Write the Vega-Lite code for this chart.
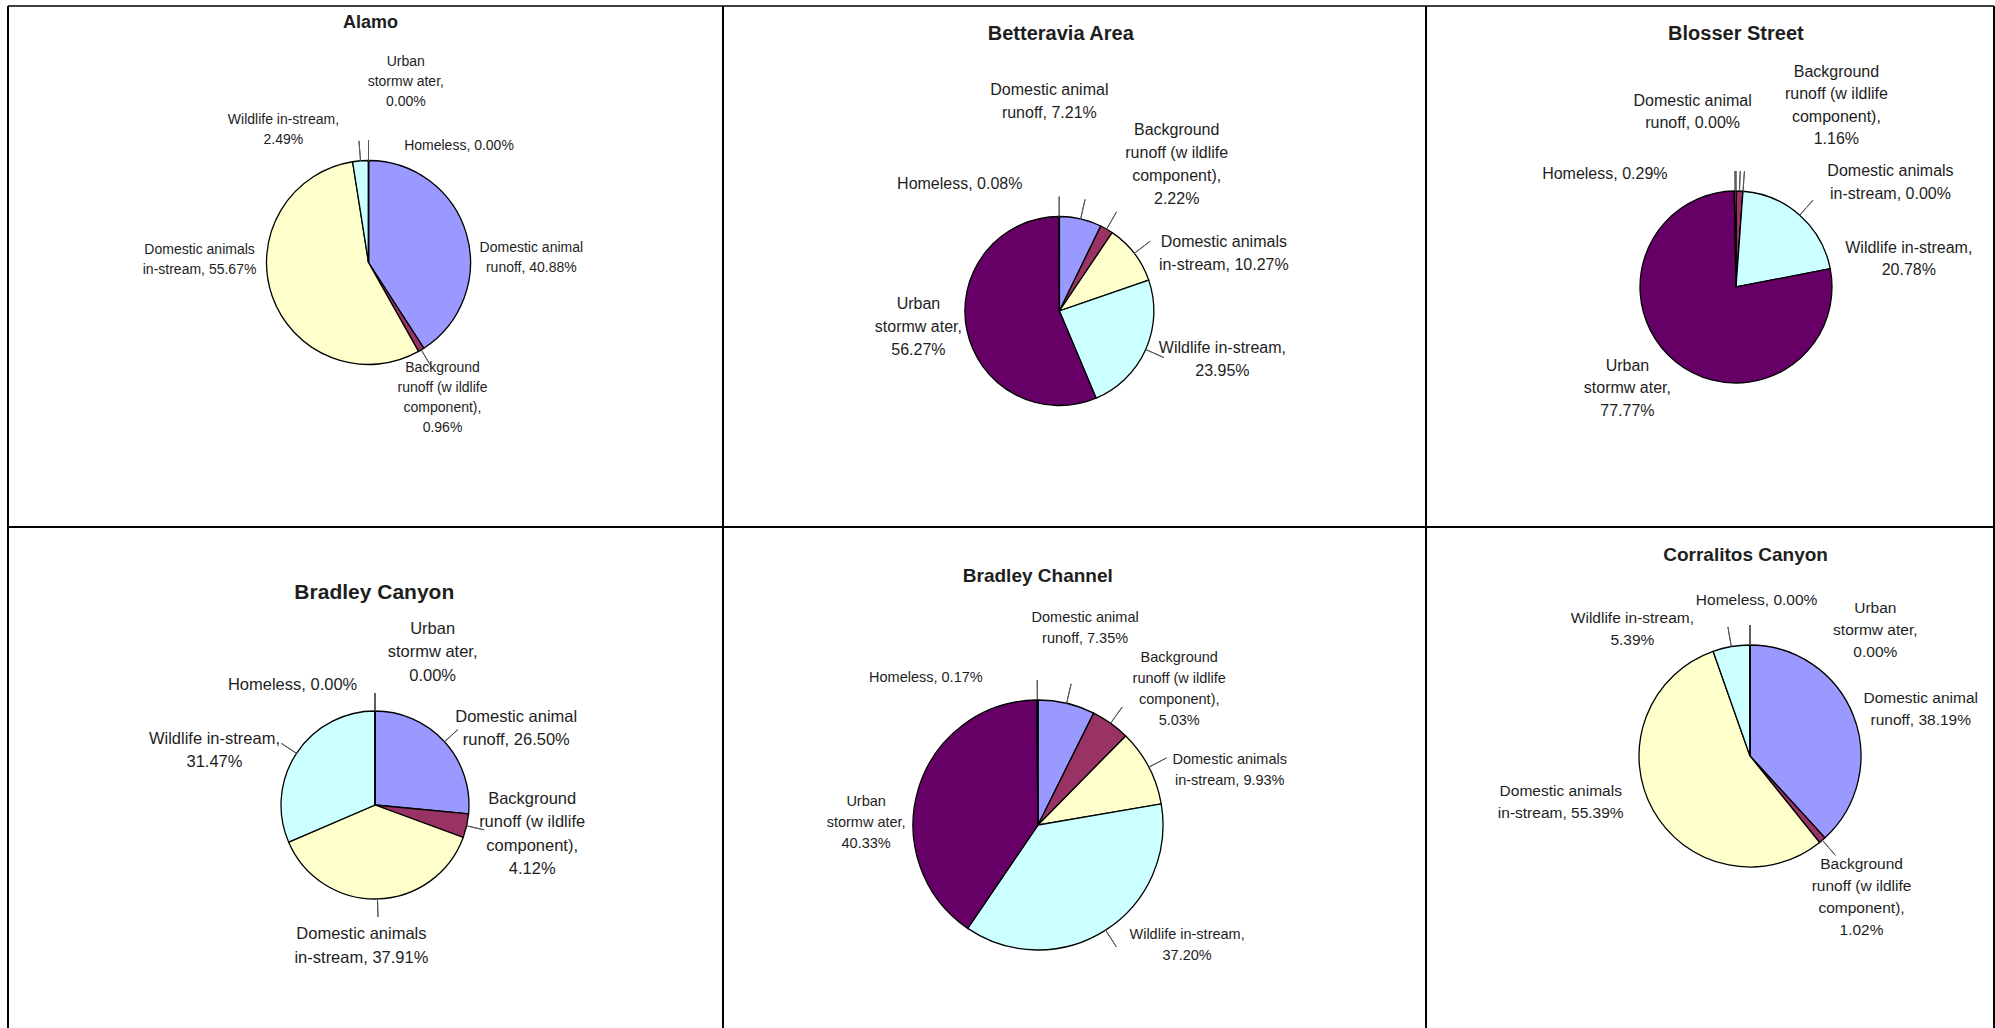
{
  "$schema": "https://vega.github.io/schema/vega-lite/v6.json",
  "background": "white",
  "padding": {"left": 7, "top": 5, "right": 0, "bottom": 0},
  "bounds": "flush",
  "spacing": 0,
  "columns": 3,
  "resolve": {"scale": {"theta": "independent", "color": "independent"}},
  "config": {
    "view": {"stroke": null},
    "concat": {"spacing": 0},
    "text": {"font": "Liberation Sans", "fill": "#1e1e1e", "align": "center", "baseline": "middle", "lineBreak": "\n"},
    "rule": {"stroke": "black", "strokeWidth": 2},
    "style": {
      "l1": {"fontSize": 14, "lineHeight": 20},
      "l2": {"fontSize": 16, "lineHeight": 23},
      "l3": {"fontSize": 16, "lineHeight": 22.5},
      "l4": {"fontSize": 16.5, "lineHeight": 23.5},
      "l5": {"fontSize": 14.5, "lineHeight": 21},
      "l6": {"fontSize": 15.5, "lineHeight": 22},
      "ttl": {"fontWeight": "bold", "fill": "black"},
      "lead": {"fillOpacity": 0, "stroke": "#555555", "strokeWidth": 1, "padAngle": 3.14}
    }
  },
  "datasets": {
    "pies": [
      {"site": "Alamo", "k": 1, "cat": "Domestic animal runoff", "v": 40.88, "lab": "Domestic animal\nrunoff, 40.88%"},
      {"site": "Alamo", "k": 2, "cat": "Background runoff (wildlife component)", "v": 0.96, "lab": "Background\nrunoff (w ildlife\ncomponent),\n0.96%"},
      {"site": "Alamo", "k": 3, "cat": "Domestic animals in-stream", "v": 55.67, "lab": "Domestic animals\nin-stream, 55.67%"},
      {"site": "Alamo", "k": 4, "cat": "Wildlife in-stream", "v": 2.49, "lab": "Wildlife in-stream,\n2.49%"},
      {"site": "Alamo", "k": 5, "cat": "Urban stormwater", "v": 0.0, "lab": "Urban\nstormw ater,\n0.00%"},
      {"site": "Alamo", "k": 6, "cat": "Homeless", "v": 0.0, "lab": "Homeless, 0.00%"},
      {"site": "Betteravia Area", "k": 1, "cat": "Domestic animal runoff", "v": 7.21, "lab": "Domestic animal\nrunoff, 7.21%"},
      {"site": "Betteravia Area", "k": 2, "cat": "Background runoff (wildlife component)", "v": 2.22, "lab": "Background\nrunoff (w ildlife\ncomponent),\n2.22%"},
      {"site": "Betteravia Area", "k": 3, "cat": "Domestic animals in-stream", "v": 10.27, "lab": "Domestic animals\nin-stream, 10.27%"},
      {"site": "Betteravia Area", "k": 4, "cat": "Wildlife in-stream", "v": 23.95, "lab": "Wildlife in-stream,\n23.95%"},
      {"site": "Betteravia Area", "k": 5, "cat": "Urban stormwater", "v": 56.27, "lab": "Urban\nstormw ater,\n56.27%"},
      {"site": "Betteravia Area", "k": 6, "cat": "Homeless", "v": 0.08, "lab": "Homeless, 0.08%"},
      {"site": "Blosser Street", "k": 1, "cat": "Domestic animal runoff", "v": 0.0, "lab": "Domestic animal\nrunoff, 0.00%"},
      {"site": "Blosser Street", "k": 2, "cat": "Background runoff (wildlife component)", "v": 1.16, "lab": "Background\nrunoff (w ildlife\ncomponent),\n1.16%"},
      {"site": "Blosser Street", "k": 3, "cat": "Domestic animals in-stream", "v": 0.0, "lab": "Domestic animals\nin-stream, 0.00%"},
      {"site": "Blosser Street", "k": 4, "cat": "Wildlife in-stream", "v": 20.78, "lab": "Wildlife in-stream,\n20.78%"},
      {"site": "Blosser Street", "k": 5, "cat": "Urban stormwater", "v": 77.77, "lab": "Urban\nstormw ater,\n77.77%"},
      {"site": "Blosser Street", "k": 6, "cat": "Homeless", "v": 0.29, "lab": "Homeless, 0.29%"},
      {"site": "Bradley Canyon", "k": 1, "cat": "Domestic animal runoff", "v": 26.5, "lab": "Domestic animal\nrunoff, 26.50%"},
      {"site": "Bradley Canyon", "k": 2, "cat": "Background runoff (wildlife component)", "v": 4.12, "lab": "Background\nrunoff (w ildlife\ncomponent),\n4.12%"},
      {"site": "Bradley Canyon", "k": 3, "cat": "Domestic animals in-stream", "v": 37.91, "lab": "Domestic animals\nin-stream, 37.91%"},
      {"site": "Bradley Canyon", "k": 4, "cat": "Wildlife in-stream", "v": 31.47, "lab": "Wildlife in-stream,\n31.47%"},
      {"site": "Bradley Canyon", "k": 5, "cat": "Urban stormwater", "v": 0.0, "lab": "Urban\nstormw ater,\n0.00%"},
      {"site": "Bradley Canyon", "k": 6, "cat": "Homeless", "v": 0.0, "lab": "Homeless, 0.00%"},
      {"site": "Bradley Channel", "k": 1, "cat": "Domestic animal runoff", "v": 7.35, "lab": "Domestic animal\nrunoff, 7.35%"},
      {"site": "Bradley Channel", "k": 2, "cat": "Background runoff (wildlife component)", "v": 5.03, "lab": "Background\nrunoff (w ildlife\ncomponent),\n5.03%"},
      {"site": "Bradley Channel", "k": 3, "cat": "Domestic animals in-stream", "v": 9.93, "lab": "Domestic animals\nin-stream, 9.93%"},
      {"site": "Bradley Channel", "k": 4, "cat": "Wildlife in-stream", "v": 37.2, "lab": "Wildlife in-stream,\n37.20%"},
      {"site": "Bradley Channel", "k": 5, "cat": "Urban stormwater", "v": 40.33, "lab": "Urban\nstormw ater,\n40.33%"},
      {"site": "Bradley Channel", "k": 6, "cat": "Homeless", "v": 0.17, "lab": "Homeless, 0.17%"},
      {"site": "Corralitos Canyon", "k": 1, "cat": "Domestic animal runoff", "v": 38.19, "lab": "Domestic animal\nrunoff, 38.19%"},
      {"site": "Corralitos Canyon", "k": 2, "cat": "Background runoff (wildlife component)", "v": 1.02, "lab": "Background\nrunoff (w ildlife\ncomponent),\n1.02%"},
      {"site": "Corralitos Canyon", "k": 3, "cat": "Domestic animals in-stream", "v": 55.39, "lab": "Domestic animals\nin-stream, 55.39%"},
      {"site": "Corralitos Canyon", "k": 4, "cat": "Wildlife in-stream", "v": 5.39, "lab": "Wildlife in-stream,\n5.39%"},
      {"site": "Corralitos Canyon", "k": 5, "cat": "Urban stormwater", "v": 0.0, "lab": "Urban\nstormw ater,\n0.00%"},
      {"site": "Corralitos Canyon", "k": 6, "cat": "Homeless", "v": 0.0, "lab": "Homeless, 0.00%"}
    ]
  },
  "data": {"name": "pies"},
  "concat": [
    {
      "width": 715, "height": 521,
      "transform": [{"filter": "datum.site === 'Alamo'"}],
      "layer": [
        {
          "encoding": {
            "theta": {"field": "v", "type": "quantitative", "stack": true},
            "order": {"field": "k", "type": "quantitative"},
            "detail": {"field": "cat", "type": "nominal"}
          },
          "layer": [
            {"mark": {"type": "arc", "x": 360.5, "y": 256.5, "outerRadius": 102, "stroke": "black", "strokeWidth": 1.3},
             "encoding": {"color": {"field": "cat", "type": "nominal", "legend": null, "scale": {"domain": ["Domestic animal runoff", "Background runoff (wildlife component)", "Domestic animals in-stream", "Wildlife in-stream", "Urban stormwater", "Homeless"], "range": ["#9999FF", "#993366", "#FFFFCC", "#CCFFFF", "#660066", "#FF8080"]}}}},
            {"mark": {"type": "arc", "style": "lead", "x": 360.5, "y": 256.5, "innerRadius": 102, "outerRadius": 122},
             "encoding": {"strokeOpacity": {"condition": {"test": "indexof([2, 4, 5, 6], datum.k) >= 0", "value": 1}, "value": 0}}},
            {"mark": {"type": "text", "style": "l1", "x": 360.5, "y": 256.5, "radius": 102, "dx": 65, "dy": 14.3}, "encoding": {"text": {"condition": {"test": "datum.k === 1", "field": "lab"}, "value": ""}}},
            {"mark": {"type": "text", "style": "l1", "x": 360.5, "y": 256.5, "radius": 102, "dx": 21.3, "dy": 17.9}, "encoding": {"text": {"condition": {"test": "datum.k === 2", "field": "lab"}, "value": ""}}},
            {"mark": {"type": "text", "style": "l1", "x": 360.5, "y": 256.5, "radius": 102, "dx": -72.6, "dy": -45.7}, "encoding": {"text": {"condition": {"test": "datum.k === 3", "field": "lab"}, "value": ""}}},
            {"mark": {"type": "text", "style": "l1", "x": 360.5, "y": 256.5, "radius": 102, "dx": -77.1, "dy": -40.5}, "encoding": {"text": {"condition": {"test": "datum.k === 4", "field": "lab"}, "value": ""}}},
            {"mark": {"type": "text", "style": "l1", "x": 360.5, "y": 256.5, "radius": 102, "dx": 37.3, "dy": -98.8}, "encoding": {"text": {"condition": {"test": "datum.k === 5", "field": "lab"}, "value": ""}}},
            {"mark": {"type": "text", "style": "l1", "x": 360.5, "y": 256.5, "radius": 102, "dx": 90.5, "dy": -14.5}, "encoding": {"text": {"condition": {"test": "datum.k === 6", "field": "lab"}, "value": ""}}}
          ]
        },
        {"transform": [{"filter": "datum.k === 1"}], "mark": {"type": "text", "style": "ttl", "fontSize": 18, "x": 362.6, "y": 16.7}, "encoding": {"text": {"field": "site"}}},
        {"transform": [{"filter": "datum.k === 1"}], "mark": {"type": "rule", "x": 335, "x2": 390, "y": 25.7, "strokeWidth": 1.5}, "encoding": {}},
        {"transform": [{"filter": "datum.k === 1"}], "mark": {"type": "rule"}, "encoding": {"x": {"value": 0}, "y": {"value": 0}, "y2": {"value": "height"}}},
        {"transform": [{"filter": "datum.k === 1"}], "mark": {"type": "rule", "strokeWidth": 1.6}, "encoding": {"y": {"value": 0}, "x": {"value": 0}, "x2": {"value": "width"}}},
        {"transform": [{"filter": "datum.k === 1"}], "mark": {"type": "rule"}, "encoding": {"y": {"value": "height"}, "x": {"value": 0}, "x2": {"value": "width"}}}
      ]
    },
    {
      "width": 703, "height": 521,
      "transform": [{"filter": "datum.site === 'Betteravia Area'"}],
      "layer": [
        {
          "encoding": {
            "theta": {"field": "v", "type": "quantitative", "stack": true},
            "order": {"field": "k", "type": "quantitative"},
            "detail": {"field": "cat", "type": "nominal"}
          },
          "layer": [
            {"mark": {"type": "arc", "x": 336.4, "y": 305, "outerRadius": 94.5, "stroke": "black", "strokeWidth": 1.3},
             "encoding": {"color": {"field": "cat", "type": "nominal", "legend": null, "scale": {"domain": ["Domestic animal runoff", "Background runoff (wildlife component)", "Domestic animals in-stream", "Wildlife in-stream", "Urban stormwater", "Homeless"], "range": ["#9999FF", "#993366", "#FFFFCC", "#CCFFFF", "#660066", "#FF8080"]}}}},
            {"mark": {"type": "arc", "style": "lead", "x": 336.4, "y": 305, "innerRadius": 94.5, "outerRadius": 114.5},
             "encoding": {"strokeOpacity": {"condition": {"test": "indexof([1, 2, 3, 4, 6], datum.k) >= 0", "value": 1}, "value": 0}}},
            {"mark": {"type": "text", "style": "l2", "x": 336.4, "y": 305, "radius": 94.5, "dx": -31.3, "dy": -129.4}, "encoding": {"text": {"condition": {"test": "datum.k === 1", "field": "lab"}, "value": ""}}},
            {"mark": {"type": "text", "style": "l2", "x": 336.4, "y": 305, "radius": 94.5, "dx": 70.1, "dy": -98.8}, "encoding": {"text": {"condition": {"test": "datum.k === 2", "field": "lab"}, "value": ""}}},
            {"mark": {"type": "text", "style": "l2", "x": 336.4, "y": 305, "radius": 94.5, "dx": 89.5, "dy": -11.5}, "encoding": {"text": {"condition": {"test": "datum.k === 3", "field": "lab"}, "value": ""}}},
            {"mark": {"type": "text", "style": "l2", "x": 336.4, "y": 305, "radius": 94.5, "dx": 76.7, "dy": -1.9}, "encoding": {"text": {"condition": {"test": "datum.k === 4", "field": "lab"}, "value": ""}}},
            {"mark": {"type": "text", "style": "l2", "x": 336.4, "y": 305, "radius": 94.5, "dx": -48.4, "dy": -26}, "encoding": {"text": {"condition": {"test": "datum.k === 5", "field": "lab"}, "value": ""}}},
            {"mark": {"type": "text", "style": "l2", "x": 336.4, "y": 305, "radius": 94.5, "dx": -99.4, "dy": -32.8}, "encoding": {"text": {"condition": {"test": "datum.k === 6", "field": "lab"}, "value": ""}}}
          ]
        },
        {"transform": [{"filter": "datum.k === 1"}], "mark": {"type": "text", "style": "ttl", "fontSize": 20, "x": 337.8, "y": 28.3}, "encoding": {"text": {"field": "site"}}},
        {"transform": [{"filter": "datum.k === 1"}], "mark": {"type": "rule", "x": 262.5, "x2": 412.6, "y": 37.7, "strokeWidth": 1.5}, "encoding": {}},
        {"transform": [{"filter": "datum.k === 1"}], "mark": {"type": "rule"}, "encoding": {"x": {"value": 0}, "y": {"value": 0}, "y2": {"value": "height"}}},
        {"transform": [{"filter": "datum.k === 1"}], "mark": {"type": "rule", "strokeWidth": 1.6}, "encoding": {"y": {"value": 0}, "x": {"value": 0}, "x2": {"value": "width"}}},
        {"transform": [{"filter": "datum.k === 1"}], "mark": {"type": "rule"}, "encoding": {"y": {"value": "height"}, "x": {"value": 0}, "x2": {"value": "width"}}}
      ]
    },
    {
      "width": 568, "height": 521,
      "transform": [{"filter": "datum.site === 'Blosser Street'"}],
      "layer": [
        {
          "encoding": {
            "theta": {"field": "v", "type": "quantitative", "stack": true},
            "order": {"field": "k", "type": "quantitative"},
            "detail": {"field": "cat", "type": "nominal"}
          },
          "layer": [
            {"mark": {"type": "arc", "x": 310, "y": 281, "outerRadius": 96, "stroke": "black", "strokeWidth": 1.3},
             "encoding": {"color": {"field": "cat", "type": "nominal", "legend": null, "scale": {"domain": ["Domestic animal runoff", "Background runoff (wildlife component)", "Domestic animals in-stream", "Wildlife in-stream", "Urban stormwater", "Homeless"], "range": ["#9999FF", "#993366", "#FFFFCC", "#CCFFFF", "#660066", "#FF8080"]}}}},
            {"mark": {"type": "arc", "style": "lead", "x": 310, "y": 281, "innerRadius": 96, "outerRadius": 116},
             "encoding": {"strokeOpacity": {"condition": {"test": "indexof([1, 2, 3, 4, 6], datum.k) >= 0", "value": 1}, "value": 0}}},
            {"mark": {"type": "text", "style": "l3", "x": 310, "y": 281, "radius": 96, "dx": -43.4, "dy": -90.25}, "encoding": {"text": {"condition": {"test": "datum.k === 1", "field": "lab"}, "value": ""}}},
            {"mark": {"type": "text", "style": "l3", "x": 310, "y": 281, "radius": 96, "dx": 96.9, "dy": -119.15}, "encoding": {"text": {"condition": {"test": "datum.k === 2", "field": "lab"}, "value": ""}}},
            {"mark": {"type": "text", "style": "l3", "x": 310, "y": 281, "radius": 96, "dx": 147.5, "dy": -20.25}, "encoding": {"text": {"condition": {"test": "datum.k === 3", "field": "lab"}, "value": ""}}},
            {"mark": {"type": "text", "style": "l3", "x": 310, "y": 281, "radius": 96, "dx": 109.1, "dy": 32.55}, "encoding": {"text": {"condition": {"test": "datum.k === 4", "field": "lab"}, "value": ""}}},
            {"mark": {"type": "text", "style": "l3", "x": 310, "y": 281, "radius": 96, "dx": -48.2, "dy": 3.9}, "encoding": {"text": {"condition": {"test": "datum.k === 5", "field": "lab"}, "value": ""}}},
            {"mark": {"type": "text", "style": "l3", "x": 310, "y": 281, "radius": 96, "dx": -130.3, "dy": -16.7}, "encoding": {"text": {"condition": {"test": "datum.k === 6", "field": "lab"}, "value": ""}}}
          ]
        },
        {"transform": [{"filter": "datum.k === 1"}], "mark": {"type": "text", "style": "ttl", "fontSize": 20, "x": 309.9, "y": 28.3}, "encoding": {"text": {"field": "site"}}},
        {"transform": [{"filter": "datum.k === 1"}], "mark": {"type": "rule", "x": 242.8, "x2": 378, "y": 37.7, "strokeWidth": 1.5}, "encoding": {}},
        {"transform": [{"filter": "datum.k === 1"}], "mark": {"type": "rule"}, "encoding": {"x": {"value": 0}, "y": {"value": 0}, "y2": {"value": "height"}}},
        {"transform": [{"filter": "datum.k === 1"}], "mark": {"type": "rule"}, "encoding": {"x": {"value": "width"}, "y": {"value": 0}, "y2": {"value": "height"}}},
        {"transform": [{"filter": "datum.k === 1"}], "mark": {"type": "rule", "strokeWidth": 1.6}, "encoding": {"y": {"value": 0}, "x": {"value": 0}, "x2": {"value": "width"}}},
        {"transform": [{"filter": "datum.k === 1"}], "mark": {"type": "rule"}, "encoding": {"y": {"value": "height"}, "x": {"value": 0}, "x2": {"value": "width"}}}
      ]
    },
    {
      "width": 715, "height": 502,
      "transform": [{"filter": "datum.site === 'Bradley Canyon'"}],
      "layer": [
        {
          "encoding": {
            "theta": {"field": "v", "type": "quantitative", "stack": true},
            "order": {"field": "k", "type": "quantitative"},
            "detail": {"field": "cat", "type": "nominal"}
          },
          "layer": [
            {"mark": {"type": "arc", "x": 367, "y": 278, "outerRadius": 94, "stroke": "black", "strokeWidth": 1.3},
             "encoding": {"color": {"field": "cat", "type": "nominal", "legend": null, "scale": {"domain": ["Domestic animal runoff", "Background runoff (wildlife component)", "Domestic animals in-stream", "Wildlife in-stream", "Urban stormwater", "Homeless"], "range": ["#9999FF", "#993366", "#FFFFCC", "#CCFFFF", "#660066", "#FF8080"]}}}},
            {"mark": {"type": "arc", "style": "lead", "x": 367, "y": 278, "innerRadius": 94, "outerRadius": 112},
             "encoding": {"strokeOpacity": {"condition": {"test": "indexof([1, 2, 3, 4, 5, 6], datum.k) >= 0", "value": 1}, "value": 0}}},
            {"mark": {"type": "text", "style": "l4", "x": 367, "y": 278, "radius": 94, "dx": 71.7, "dy": -24.75}, "encoding": {"text": {"condition": {"test": "datum.k === 1", "field": "lab"}, "value": ""}}},
            {"mark": {"type": "text", "style": "l4", "x": 367, "y": 278, "radius": 94, "dx": 65.5, "dy": -27.05}, "encoding": {"text": {"condition": {"test": "datum.k === 2", "field": "lab"}, "value": ""}}},
            {"mark": {"type": "text", "style": "l4", "x": 367, "y": 278, "radius": 94, "dx": -16.1, "dy": 35.25}, "encoding": {"text": {"condition": {"test": "datum.k === 3", "field": "lab"}, "value": ""}}},
            {"mark": {"type": "text", "style": "l4", "x": 367, "y": 278, "radius": 94, "dx": -82, "dy": -14.55}, "encoding": {"text": {"condition": {"test": "datum.k === 4", "field": "lab"}, "value": ""}}},
            {"mark": {"type": "text", "style": "l4", "x": 367, "y": 278, "radius": 94, "dx": 57.6, "dy": -82.5}, "encoding": {"text": {"condition": {"test": "datum.k === 5", "field": "lab"}, "value": ""}}},
            {"mark": {"type": "text", "style": "l4", "x": 367, "y": 278, "radius": 94, "dx": -82.4, "dy": -26}, "encoding": {"text": {"condition": {"test": "datum.k === 6", "field": "lab"}, "value": ""}}}
          ]
        },
        {"transform": [{"filter": "datum.k === 1"}], "mark": {"type": "text", "style": "ttl", "fontSize": 21, "x": 366.3, "y": 65.7}, "encoding": {"text": {"field": "site"}}},
        {"transform": [{"filter": "datum.k === 1"}], "mark": {"type": "rule", "x": 286.8, "x2": 446.6, "y": 74.7, "strokeWidth": 1.5}, "encoding": {}},
        {"transform": [{"filter": "datum.k === 1"}], "mark": {"type": "rule"}, "encoding": {"x": {"value": 0}, "y": {"value": 0}, "y2": {"value": "height"}}}
      ]
    },
    {
      "width": 703, "height": 502,
      "transform": [{"filter": "datum.site === 'Bradley Channel'"}],
      "layer": [
        {
          "encoding": {
            "theta": {"field": "v", "type": "quantitative", "stack": true},
            "order": {"field": "k", "type": "quantitative"},
            "detail": {"field": "cat", "type": "nominal"}
          },
          "layer": [
            {"mark": {"type": "arc", "x": 315, "y": 298, "outerRadius": 125, "stroke": "black", "strokeWidth": 1.3},
             "encoding": {"color": {"field": "cat", "type": "nominal", "legend": null, "scale": {"domain": ["Domestic animal runoff", "Background runoff (wildlife component)", "Domestic animals in-stream", "Wildlife in-stream", "Urban stormwater", "Homeless"], "range": ["#9999FF", "#993366", "#FFFFCC", "#CCFFFF", "#660066", "#FF8080"]}}}},
            {"mark": {"type": "arc", "style": "lead", "x": 315, "y": 298, "innerRadius": 125, "outerRadius": 145},
             "encoding": {"strokeOpacity": {"condition": {"test": "indexof([1, 2, 3, 4, 6], datum.k) >= 0", "value": 1}, "value": 0}}},
            {"mark": {"type": "text", "style": "l5", "x": 315, "y": 298, "radius": 125, "dx": 18.5, "dy": -85.8}, "encoding": {"text": {"condition": {"test": "datum.k === 1", "field": "lab"}, "value": ""}}},
            {"mark": {"type": "text", "style": "l5", "x": 315, "y": 298, "radius": 125, "dx": 68.6, "dy": -65.4}, "encoding": {"text": {"condition": {"test": "datum.k === 2", "field": "lab"}, "value": ""}}},
            {"mark": {"type": "text", "style": "l5", "x": 315, "y": 298, "radius": 125, "dx": 80.9, "dy": -7.3}, "encoding": {"text": {"condition": {"test": "datum.k === 3", "field": "lab"}, "value": ""}}},
            {"mark": {"type": "text", "style": "l5", "x": 315, "y": 298, "radius": 125, "dx": 81.5, "dy": 5.3}, "encoding": {"text": {"condition": {"test": "datum.k === 4", "field": "lab"}, "value": ""}}},
            {"mark": {"type": "text", "style": "l5", "x": 315, "y": 298, "radius": 125, "dx": -52.2, "dy": 13.5}, "encoding": {"text": {"condition": {"test": "datum.k === 5", "field": "lab"}, "value": ""}}},
            {"mark": {"type": "text", "style": "l5", "x": 315, "y": 298, "radius": 125, "dx": -111.5, "dy": -22.3}, "encoding": {"text": {"condition": {"test": "datum.k === 6", "field": "lab"}, "value": ""}}}
          ]
        },
        {"transform": [{"filter": "datum.k === 1"}], "mark": {"type": "text", "style": "ttl", "fontSize": 19, "x": 314.8, "y": 49}, "encoding": {"text": {"field": "site"}}},
        {"transform": [{"filter": "datum.k === 1"}], "mark": {"type": "rule", "x": 241.3, "x2": 389.2, "y": 59, "strokeWidth": 1.5}, "encoding": {}},
        {"transform": [{"filter": "datum.k === 1"}], "mark": {"type": "rule"}, "encoding": {"x": {"value": 0}, "y": {"value": 0}, "y2": {"value": "height"}}}
      ]
    },
    {
      "width": 568, "height": 502,
      "transform": [{"filter": "datum.site === 'Corralitos Canyon'"}],
      "layer": [
        {
          "encoding": {
            "theta": {"field": "v", "type": "quantitative", "stack": true},
            "order": {"field": "k", "type": "quantitative"},
            "detail": {"field": "cat", "type": "nominal"}
          },
          "layer": [
            {"mark": {"type": "arc", "x": 324, "y": 229, "outerRadius": 111, "stroke": "black", "strokeWidth": 1.3},
             "encoding": {"color": {"field": "cat", "type": "nominal", "legend": null, "scale": {"domain": ["Domestic animal runoff", "Background runoff (wildlife component)", "Domestic animals in-stream", "Wildlife in-stream", "Urban stormwater", "Homeless"], "range": ["#9999FF", "#993366", "#FFFFCC", "#CCFFFF", "#660066", "#FF8080"]}}}},
            {"mark": {"type": "arc", "style": "lead", "x": 324, "y": 229, "innerRadius": 111, "outerRadius": 131},
             "encoding": {"strokeOpacity": {"condition": {"test": "indexof([2, 4, 5, 6], datum.k) >= 0", "value": 1}, "value": 0}}},
            {"mark": {"type": "text", "style": "l6", "x": 324, "y": 229, "radius": 111, "dx": 67.3, "dy": -17.7}, "encoding": {"text": {"condition": {"test": "datum.k === 1", "field": "lab"}, "value": ""}}},
            {"mark": {"type": "text", "style": "l6", "x": 324, "y": 229, "radius": 111, "dx": 39.2, "dy": 23.8}, "encoding": {"text": {"condition": {"test": "datum.k === 2", "field": "lab"}, "value": ""}}},
            {"mark": {"type": "text", "style": "l6", "x": 324, "y": 229, "radius": 111, "dx": -92.3, "dy": -18.7}, "encoding": {"text": {"condition": {"test": "datum.k === 3", "field": "lab"}, "value": ""}}},
            {"mark": {"type": "text", "style": "l6", "x": 324, "y": 229, "radius": 111, "dx": -98.9, "dy": -28.3}, "encoding": {"text": {"condition": {"test": "datum.k === 4", "field": "lab"}, "value": ""}}},
            {"mark": {"type": "text", "style": "l6", "x": 324, "y": 229, "radius": 111, "dx": 125.3, "dy": -36.8}, "encoding": {"text": {"condition": {"test": "datum.k === 5", "field": "lab"}, "value": ""}}},
            {"mark": {"type": "text", "style": "l6", "x": 324, "y": 229, "radius": 111, "dx": 6.6, "dy": -44.7}, "encoding": {"text": {"condition": {"test": "datum.k === 6", "field": "lab"}, "value": ""}}}
          ]
        },
        {"transform": [{"filter": "datum.k === 1"}], "mark": {"type": "text", "style": "ttl", "fontSize": 19, "x": 319.6, "y": 28}, "encoding": {"text": {"field": "site"}}},
        {"transform": [{"filter": "datum.k === 1"}], "mark": {"type": "rule", "x": 235.6, "x2": 403.2, "y": 37.3, "strokeWidth": 1.5}, "encoding": {}},
        {"transform": [{"filter": "datum.k === 1"}], "mark": {"type": "rule"}, "encoding": {"x": {"value": 0}, "y": {"value": 0}, "y2": {"value": "height"}}},
        {"transform": [{"filter": "datum.k === 1"}], "mark": {"type": "rule"}, "encoding": {"x": {"value": "width"}, "y": {"value": 0}, "y2": {"value": "height"}}}
      ]
    }
  ]
}
